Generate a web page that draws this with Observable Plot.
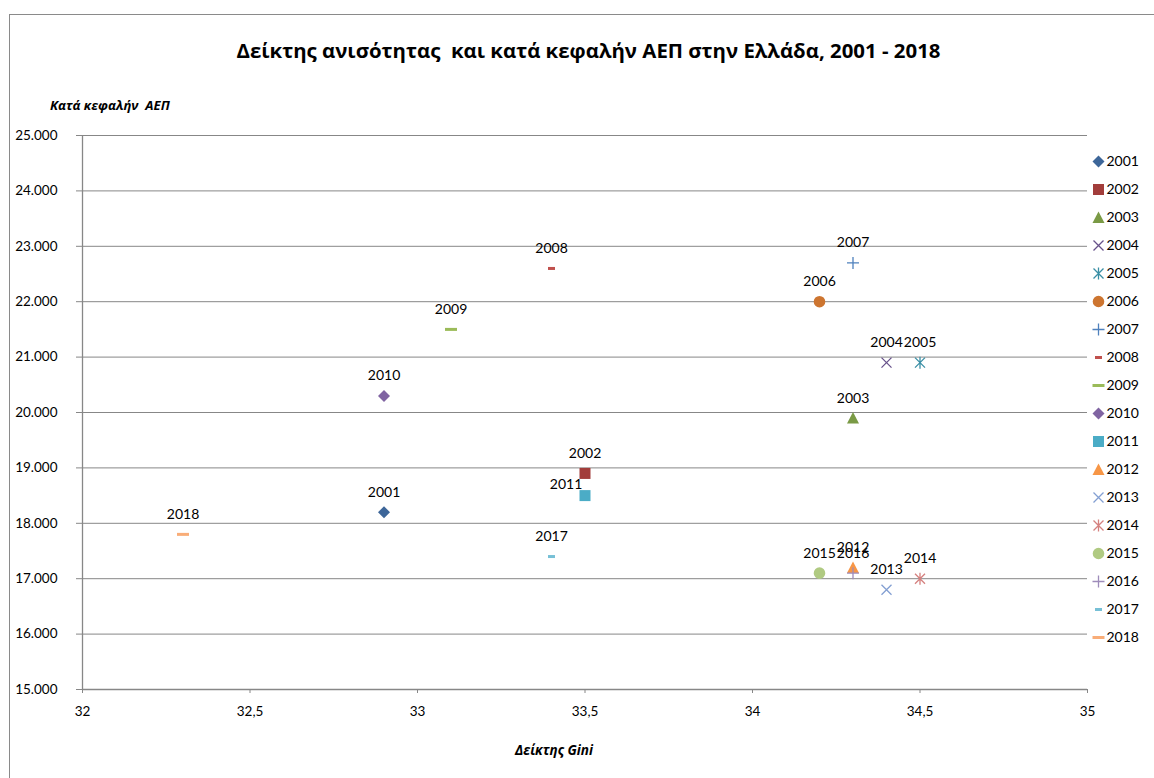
<!DOCTYPE html>
<html><head><meta charset="utf-8">
<script src="https://cdn.jsdelivr.net/npm/d3@7"></script>
<script src="https://cdn.jsdelivr.net/npm/@observablehq/plot@0.6"></script>
<style>
body{margin:0;background:#fff;font-family:Lato,"Open Sans",sans-serif;color:#000}
#wrap{position:relative;width:1154px;height:778px;overflow:hidden;background:#fff}
#frame{position:absolute;left:9px;top:14px;width:1300px;height:900px;border-left:1px solid #8a8a8a;border-top:1px solid #8a8a8a;pointer-events:none}
#title{position:absolute;left:0;width:1177px;top:36px;text-align:center;font-family:"Open Sans",sans-serif;font-weight:bold;font-size:20.4px;white-space:pre}
#ytitle{position:absolute;left:50px;top:96px;font-family:"Open Sans",sans-serif;font-weight:bold;font-style:italic;font-size:13.1px;white-space:pre}
#xtitle{position:absolute;left:0;width:1108px;top:741px;text-align:center;font-family:"Open Sans",sans-serif;font-weight:bold;font-style:italic;font-size:13.5px;white-space:pre}
#chart{position:absolute;left:0;top:0}
#legend{position:absolute;left:1085px;top:150px}
</style>
</head><body>
<div id="wrap">
  <div id="chart"></div>
  <div id="legend"></div>
  <div id="title">Δείκτης ανισότητας  και κατά κεφαλήν ΑΕΠ στην Ελλάδα, 2001 - 2018</div>
  <div id="ytitle">Κατά κεφαλήν  ΑΕΠ</div>
  <div id="xtitle">Δείκτης Gini</div>
  <div id="frame"></div>
</div>
<script>
// ---- data ----
const years = [2001,2002,2003,2004,2005,2006,2007,2008,2009,2010,2011,2012,2013,2014,2015,2016,2017,2018];
const gini  = [32.9,33.5,34.3,34.4,34.5,34.2,34.3,33.4,33.1,32.9,33.5,34.3,34.4,34.5,34.2,34.3,33.4,32.3];
const gdp   = [18200,18900,19900,20900,20900,22000,22700,22600,21500,20300,18500,17200,16800,17000,17100,17100,17400,17800];
const markerKinds = ["diamond","square","triangle","times","star","circle","plus","shortdash","longdash",
                     "diamond","square","triangle","times","star","circle","plus","shortdash","longdash"];
const colors = ["#3d6699","#a23d3b","#7a9a45","#67518a","#3a8fa5","#cd7530","#4f81bd","#c0504d","#9bbb59",
                "#8064a2","#4bacc6","#f79646","#839fd2","#d5817f","#b0ca82","#9e8cba","#77c0d6","#f9ad78"];
const xTicks = [32,32.5,33,33.5,34,34.5,35];
const yTicks = [15000,16000,17000,18000,19000,20000,21000,22000,23000,24000,25000];

// ---- marker shapes ----
const shapes = {
  diamond:{draw(c){const r=6;c.moveTo(0,-r);c.lineTo(r,0);c.lineTo(0,r);c.lineTo(-r,0);c.closePath();}},
  square:{draw(c){const r=5.5;c.rect(-r,-r,2*r,2*r);}},
  triangle:{draw(c){c.moveTo(0,-6);c.lineTo(6,5.5);c.lineTo(-6,5.5);c.closePath();}},
  times:{draw(c){const r=5;c.moveTo(-r,-r);c.lineTo(r,r);c.moveTo(r,-r);c.lineTo(-r,r);}},
  star:{draw(c){const r=5;c.moveTo(-r,-r);c.lineTo(r,r);c.moveTo(r,-r);c.lineTo(-r,r);c.moveTo(0,-6);c.lineTo(0,6);}},
  circle:{draw(c){c.moveTo(5.8,0);c.arc(0,0,5.8,0,2*Math.PI);}},
  plus:{draw(c){const r=6;c.moveTo(-r,0);c.lineTo(r,0);c.moveTo(0,-r);c.lineTo(0,r);}},
  shortdash:{draw(c){c.rect(-3.5,-1.5,7,3);}},
  longdash:{draw(c){c.rect(-6,-1.5,12,3);}}
};
const filled = {diamond:true,square:true,triangle:true,circle:true,shortdash:true,longdash:true};

const rows = years.map((y,i)=>({year:y, gini:gini[i], gdp:gdp[i], kind:markerKinds[i], color:colors[i]}));

function dotMark(d, opts){
  const f = filled[d.kind];
  return Plot.dot([d], {...opts, symbol: shapes[d.kind],
    fill: f ? d.color : "none", stroke: f ? "none" : d.color, strokeWidth: f ? 0 : 1.3});
}

const gridColor = "#878787";
const fmtY = d => d3.format(",")(d).replace(/,/g, ".");
const fmtX = d => String(d).replace(".", ",");
const font = "Lato, 'Open Sans', sans-serif";

const marks = [
  Plot.gridY(yTicks, {stroke: gridColor, strokeOpacity: 1, strokeWidth: 1}),
  Plot.ruleX([32], {stroke: gridColor, strokeWidth: 1.3}),
  Plot.ruleY([15000], {stroke: gridColor, strokeWidth: 1.3}),
  Plot.axisY({ticks: yTicks, tickFormat: fmtY, tickSize: 6, tickPadding: 19, stroke: gridColor, fontSize: 13.5, textAnchor: "end", label: null}),
  Plot.axisX({ticks: xTicks, tickFormat: fmtX, tickSize: 4, tickPadding: 13, stroke: gridColor, fontSize: 13.5, label: null})
];
rows.forEach(d => marks.push(dotMark(d, {x: "gini", y: "gdp"})));
marks.push(Plot.text(rows.filter(d => d.year !== 2011), {x: "gini", y: "gdp", text: d => String(d.year), dy: -20, fontSize: 14, fill: "#000"}));
marks.push(Plot.text(rows.filter(d => d.year === 2011), {x: "gini", y: "gdp", text: d => String(d.year), dy: -11, dx: -19, fontSize: 14, fill: "#000"}));

const chart = Plot.plot({
  width: 1154, height: 778,
  marginLeft: 82, marginRight: 67, marginTop: 135, marginBottom: 89,
  style: {fontFamily: font, fontSize: "13px", color: "#000", background: "transparent", overflow: "visible"},
  x: {domain: [32, 35], axis: null, label: null},
  y: {domain: [15000, 25000], axis: null, label: null},
  marks
});
document.getElementById("chart").appendChild(chart);

// ---- legend ----
const legendMarks = [];
rows.forEach(d => legendMarks.push(dotMark(d, {x: () => 0, y: "year"})));
legendMarks.push(Plot.text(rows, {x: () => 0, y: "year", text: d => String(d.year), dx: 8, textAnchor: "start", fontSize: 14, fill: "#000"}));
const legend = Plot.plot({
  width: 69, height: 500, margin: 0,
  style: {fontFamily: font, fontSize: "14px", color: "#000", background: "transparent", overflow: "visible"},
  x: {type: "linear", domain: [0, 1], range: [13, 69], axis: null, label: null},
  y: {type: "point", domain: years, range: [7, 490], padding: 0, axis: null, label: null},
  marks: legendMarks
});
document.getElementById("legend").appendChild(legend);
</script>
</body></html>
